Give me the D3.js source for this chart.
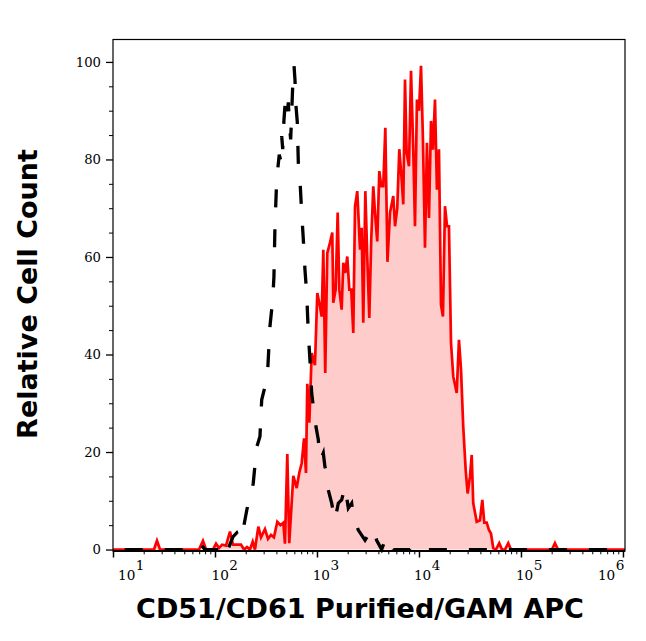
<!DOCTYPE html>
<html>
<head>
<meta charset="utf-8">
<script src="https://cdn.jsdelivr.net/npm/d3@7"></script>
<style>
  html, body { margin: 0; padding: 0; background: #fff; }
  svg { display: block; }
</style>
</head>
<body>
<svg id="chart" width="646" height="641"></svg>
<script>
// ---- data (x as log10 of fluorescence, y as relative cell count) ----
const redLog = [1.000,1.363,1.402,1.431,1.461,1.843,1.882,1.912,1.980,2.010,2.039,2.069,2.108,2.147,2.176,2.216,2.255,2.284,2.314,2.343,2.370,2.392,2.425,2.451,2.490,2.520,2.549,2.578,2.611,2.642,2.670,2.686,2.709,2.728,2.768,2.801,2.826,2.850,2.873,2.892,2.905,2.925,2.948,2.980,3.003,3.029,3.046,3.062,3.081,3.101,3.127,3.150,3.160,3.183,3.203,3.219,3.242,3.258,3.277,3.297,3.317,3.336,3.356,3.373,3.395,3.422,3.438,3.454,3.474,3.493,3.513,3.532,3.552,3.569,3.591,3.611,3.630,3.650,3.670,3.691,3.716,3.748,3.765,3.787,3.807,3.830,3.846,3.863,3.879,3.902,3.922,3.944,3.961,3.980,4.000,4.020,4.039,4.059,4.078,4.098,4.118,4.137,4.157,4.176,4.196,4.216,4.235,4.255,4.275,4.294,4.314,4.336,4.370,4.392,4.412,4.434,4.458,4.477,4.500,4.517,4.532,4.566,4.598,4.621,4.640,4.664,4.686,4.706,4.728,4.755,4.787,4.814,4.843,4.875,4.902,5.304,5.333,5.363,6.020];
const redCount = [0,0,0,1.8,0,0,1.8,0,0,1.2,0.3,1,0.8,3.7,1,1,1,0,0.5,0,1.6,0,4.7,2.5,4.2,2.2,3,2.5,5.7,5,5.5,1.2,19.6,1.3,15.1,12.6,15.7,17.7,22.8,15.7,34,26,40.3,37.8,52.6,49.9,47.8,61.5,36.2,60.8,62.9,65,50.6,53.3,69.1,53.3,49.2,58.8,56.7,60.1,53.3,53.3,44.4,70.4,73.5,61.5,66,46.5,73.5,60,47.5,63.6,74.5,69,63.2,77.6,74.5,74.5,86.5,59,69.1,72.5,66.3,70,82.1,76,70.8,96.4,81.4,78.6,98.2,82,66.3,92.3,90,99.2,84,61.9,83.4,68,87.9,82,92.3,73.8,82.1,50.2,47.8,70.4,66.3,66.3,42.4,35.5,32.1,43,37,25.2,16.3,11.5,15,19.4,9.5,5.7,6,10.2,5.5,5.5,4,3.3,0.3,0,1.3,0,0,1.3,0,0,1.3,0,0];

const blackLog = [1.000,1.216,1.461,1.608,1.824,1.863,1.902,2.069,2.098,2.127,2.176,2.213,2.245,2.284,2.311,2.326,2.353,2.375,2.409,2.441,2.458,2.485,2.517,2.539,2.566,2.578,2.588,2.605,2.630,2.642,2.654,2.664,2.676,2.686,2.703,2.719,2.730,2.742,2.762,2.775,2.784,2.794,2.807,2.817,2.833,2.850,2.866,2.882,2.899,2.915,2.931,2.948,2.964,2.990,3.013,3.029,3.046,3.062,3.078,3.095,3.111,3.144,3.176,3.209,3.242,3.275,3.307,3.340,3.356,3.405,3.471,3.503,3.552,3.585,3.634,3.667,3.699,3.748,3.912,3.944,3.971,6.020];
const blackCount = [0,0,0,0,0,1,0,0,1.5,0,2.6,3.4,2,5,8,9.5,11,13.6,21,23.2,30.7,33,36.9,45.8,51.3,56,66.3,75.9,81,80,84.8,82.1,88,91,88.2,91.7,87,84.1,95.1,99.2,96.4,91,87.6,79.3,75.9,69.1,63.6,57.4,52.6,44.4,38.9,32.1,29.3,25.2,22.5,18.4,19,19.8,17,15.7,12.2,9.5,6,9.5,10.2,12.9,8.5,9.5,6.7,4,1.9,3,4.4,1.9,0,1.9,2.6,0,0,0.8,0,0];

const xTickExps = [1, 2, 3, 4, 5, 6];
const yTicks = [0, 20, 40, 60, 80, 100];
const xTitle = "CD51/CD61 Purified/GAM APC";
const yTitle = "Relative Cell Count";

// ---- layout ----
const L = 113, R = 625, T = 39.5, B = 551;
const svg = d3.select("#chart");

const x = d3.scaleLog().domain([10, Math.pow(10, 6.02)]).range([L, R]);
const y = d3.scaleLinear().domain([-0.3, 104.6]).range([B, T]);

const red = redLog.map((l, i) => [Math.pow(10, l), redCount[i]]);
const black = blackLog.map((l, i) => [Math.pow(10, l), blackCount[i]]);

const line = d3.line().x(d => x(d[0])).y(d => y(d[1]));
const area = d3.area().x(d => x(d[0])).y0(y(0)).y1(d => y(d[1]));

svg.append("path").datum(red).attr("d", area)
  .attr("fill", "#ffcccc").attr("stroke", "none");
svg.append("path").datum(red).attr("d", line)
  .attr("fill", "none").attr("stroke", "#ff0000").attr("stroke-width", 2.7)
  .attr("stroke-linejoin", "miter");
const blackPath = svg.append("path").datum(black).attr("d", line)
  .attr("fill", "none").attr("stroke", "#000").attr("stroke-width", 3.3)
  .attr("stroke-dasharray", "18,22");
// phase the dash pattern so the flat right-hand tail has dashes starting near x(10^4.26)
{
  const total = blackPath.node().getTotalLength();
  const s = total - (R - x(Math.pow(10, 4.26)));
  blackPath.attr("stroke-dashoffset", -((40 - (s % 40)) % 40) + 0);
}

// ---- frame ----
svg.append("rect").attr("x", L).attr("y", T).attr("width", R - L).attr("height", B - T)
  .attr("fill", "none").attr("stroke", "#000").attr("stroke-width", 1.2);

const serif = "'DejaVu Serif', serif";

// ---- y axis ----
const yMinor = d3.range(5, 101, 5).filter(v => v % 20 !== 0);
const yAxis = svg.append("g").attr("transform", `translate(${L},0)`)
  .call(d3.axisLeft(y).tickValues(yTicks).tickSize(7).tickSizeOuter(0).tickPadding(5).tickFormat(d3.format("d")));
yAxis.select(".domain").remove();
yAxis.selectAll("text").attr("font-family", serif).attr("font-size", 13.2).attr("fill", "#000");
yAxis.selectAll("line").attr("stroke-width", 1.3);
const yAxisMinor = svg.append("g").attr("transform", `translate(${L},0)`)
  .call(d3.axisLeft(y).tickValues(yMinor).tickSize(4).tickSizeOuter(0).tickFormat(""));
yAxisMinor.select(".domain").remove();

// ---- x axis ----
const majors = xTickExps.map(e => Math.pow(10, e));
const minors = [];
for (let e = 1; e < 6; e++) for (let k = 2; k <= 9; k++) minors.push(k * Math.pow(10, e));
const xAxis = svg.append("g").attr("transform", `translate(0,${B})`)
  .call(d3.axisBottom(x).tickValues(majors).tickSize(6.5).tickSizeOuter(0).tickFormat(""));
xAxis.select(".domain").remove();
xAxis.selectAll("line").attr("stroke-width", 1.5);
const xAxisMinor = svg.append("g").attr("transform", `translate(0,${B})`)
  .call(d3.axisBottom(x).tickValues(minors).tickSize(3.3).tickSizeOuter(0).tickFormat(""));
xAxisMinor.select(".domain").remove();
svg.append("line").attr("x1", L).attr("x2", R).attr("y1", B).attr("y2", B)
  .attr("stroke", "#000").attr("stroke-width", 1.8);

// x tick labels: "10" with superscript exponent; start offset from tick, end labels kept inside
const labelNudge = [5, -3.5, -4.3, -5, -5, -25];
xTickExps.forEach((e, i) => {
  const sx = x(Math.pow(10, e)) + labelNudge[i];
  const t = svg.append("text")
    .attr("x", sx).attr("y", 580)
    .attr("font-family", serif).attr("font-size", 13.6).attr("fill", "#000");
  t.append("tspan").text("10");
  t.append("tspan").attr("dx", 0.5).attr("dy", -9.6).text(String(e));
});

// ---- titles ----
svg.append("text").attr("x", 360).attr("y", 618).attr("text-anchor", "middle")
  .attr("font-family", "'DejaVu Sans', sans-serif").attr("font-weight", "bold").attr("font-size", 27)
  .attr("fill", "#000").text(xTitle);
svg.append("text").attr("transform", "translate(37,294) rotate(-90)").attr("text-anchor", "middle")
  .attr("font-family", "'DejaVu Sans', sans-serif").attr("font-weight", "bold").attr("font-size", 27)
  .attr("fill", "#000").text(yTitle);
</script>
</body>
</html>
